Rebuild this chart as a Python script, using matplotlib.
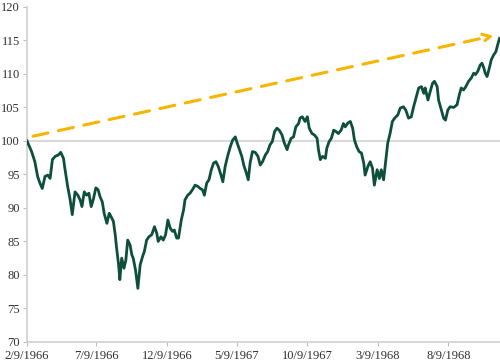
import datetime as dt
import matplotlib
matplotlib.use("Agg")
import matplotlib.pyplot as plt

# index level (start = 100); x given as days after 2/9/1966
start = dt.date(1966, 2, 9)
days = [0, 10, 17, 23, 28, 33, 39, 45, 50, 55, 61, 68, 73, 79, 82, 88, 93, 98,
        104, 110, 115, 119, 124, 129, 134, 139, 144, 149, 154, 158, 163, 167,
        173, 178, 182, 187, 191, 194, 198, 201, 205, 210, 214, 218, 223, 227,
        230, 235, 240, 245, 250, 254, 259, 264, 270, 276, 281, 284, 290, 295,
        300, 305, 310, 315, 319, 324, 328, 334, 339, 342, 348, 353, 358, 364,
        370, 375, 380, 384, 389, 394, 399, 404, 409, 414, 420, 424, 429, 435,
        440, 445, 451, 454, 459, 465, 470, 474, 479, 483, 488, 494, 500, 505,
        510, 516, 521, 526, 531, 536, 541, 546, 552, 557, 563, 566, 572, 577,
        582, 588, 591, 596, 602, 607, 611, 617, 622, 628, 631, 635, 640, 646,
        649, 654, 659, 664, 669, 674, 680, 685, 689, 695, 700, 705, 709, 714,
        719, 724, 729, 732, 738, 743, 748, 752, 758, 763, 767, 772, 777, 781,
        786, 791, 796, 803, 808, 815, 820, 826, 832, 837, 842, 848, 854, 859,
        862, 868, 873, 878, 882, 888, 891, 897, 902, 906, 911, 916, 924, 931,
        936, 940, 945, 950, 956, 962, 967, 971, 976, 981, 985, 989, 992, 996,
        1001, 1005, 1010, 1015, 1020, 1023]
level = [100.0, 98.4, 96.9, 94.7, 93.7, 92.9, 94.7, 94.9, 94.4, 97.2, 97.7, 97.9,
         98.3, 97.4, 95.9, 93.2, 91.4, 89.0, 92.4, 91.9, 91.2, 90.2, 92.4, 91.9,
         92.2, 90.2, 91.4, 93.0, 92.7, 91.7, 90.9, 89.2, 87.7, 89.2, 88.7, 88.0,
         86.0, 84.0, 81.7, 79.3, 82.5, 81.0, 82.2, 85.2, 84.5, 83.0, 82.5, 80.7,
         78.0, 81.5, 82.7, 83.5, 85.2, 85.7, 86.0, 87.2, 86.2, 85.0, 85.7, 85.2,
         86.0, 88.2, 87.0, 86.5, 86.7, 85.5, 85.5, 88.2, 89.7, 91.2, 91.9, 92.2,
         92.7, 93.4, 93.2, 92.9, 92.7, 91.9, 93.7, 94.2, 95.7, 96.7, 96.9, 96.2,
         94.9, 93.9, 96.2, 97.9, 99.1, 100.1, 100.6, 99.9, 98.9, 97.7, 96.2, 95.4,
         94.2, 96.7, 98.4, 98.3, 97.7, 96.4, 96.9, 97.9, 98.4, 99.4, 99.9, 101.4,
         101.9, 101.6, 100.9, 99.7, 98.7, 99.4, 100.4, 100.6, 102.1, 102.6, 103.4,
         103.6, 102.9, 103.6, 101.9, 101.1, 100.9, 100.4, 98.7, 97.2, 97.7, 97.4,
         98.9, 99.9, 100.4, 101.6, 101.4, 101.1, 101.6, 102.6, 102.1, 102.7, 102.9,
         101.9, 100.1, 99.1, 98.4, 98.2, 96.7, 94.9, 96.2, 96.9, 95.9, 93.4, 95.7,
         94.4, 95.7, 94.2, 97.2, 99.7, 101.1, 102.9, 103.4, 103.9, 104.9, 105.1,
         104.6, 103.4, 103.6, 105.1, 106.4, 107.9, 108.1, 107.1, 107.9, 106.1,
         107.4, 108.6, 108.9, 108.1, 106.1, 104.6, 103.4, 103.1, 104.6, 105.1,
         105.0, 105.4, 106.9, 107.9, 107.6, 108.1, 108.9, 109.4, 110.1, 109.9,
         110.4, 111.3, 111.6, 110.9, 110.1, 109.6, 110.9, 112.1, 112.8, 113.3,
         114.6, 115.3]

# trend arrow: (days after start, level)
arrow_days = [13, 1010]
arrow_level = [100.7, 115.7]

tick_dates = [dt.date(1966, 2, 9), dt.date(1966, 7, 9), dt.date(1966, 12, 9),
              dt.date(1967, 5, 9), dt.date(1967, 10, 9), dt.date(1968, 3, 9),
              dt.date(1968, 8, 9)]
end = dt.date(1968, 11, 29)

plt.rcParams['font.family'] = ['Liberation Serif', 'DejaVu Serif']

dates = [start + dt.timedelta(days=d) for d in days]
a_dates = [start + dt.timedelta(days=d) for d in arrow_days]

fig = plt.figure(figsize=(5, 3.63), dpi=100)
ax = fig.add_axes([0.054, 0.058, 0.946, 0.923])

ax.axhline(100, color='#d9d9d9', lw=1.5, zorder=1)
ax.plot(dates, level, color='#0d4f3c', lw=2.0, zorder=3)
ax.annotate('', xy=(a_dates[1], arrow_level[1]), xytext=(a_dates[0], arrow_level[0]),
            arrowprops=dict(arrowstyle='->', color='#f7b500', lw=2.2,
                            linestyle=(0, (5, 3.5)), mutation_scale=14,
                            shrinkA=0, shrinkB=0), zorder=2)

ax.set_ylim(70, 120)
ax.set_yticks(range(70, 121, 5))
ax.set_xlim(start, end)
ax.set_xticks(tick_dates)
ax.set_xticklabels([f"{d.month}/{d.day}/{d.year}" for d in tick_dates])

for s in ['top', 'right']:
    ax.spines[s].set_visible(False)
for s in ['left', 'bottom']:
    ax.spines[s].set_color('#d0d0d0')
    ax.spines[s].set_linewidth(1.2)
ax.tick_params(axis='both', colors='#bfbfbf', labelcolor='#303030',
               labelsize=9, length=3, width=0.8)
ax.tick_params(axis='y', pad=2)
ax.tick_params(axis='x', pad=3)

fig.savefig('out.png', dpi=100)
